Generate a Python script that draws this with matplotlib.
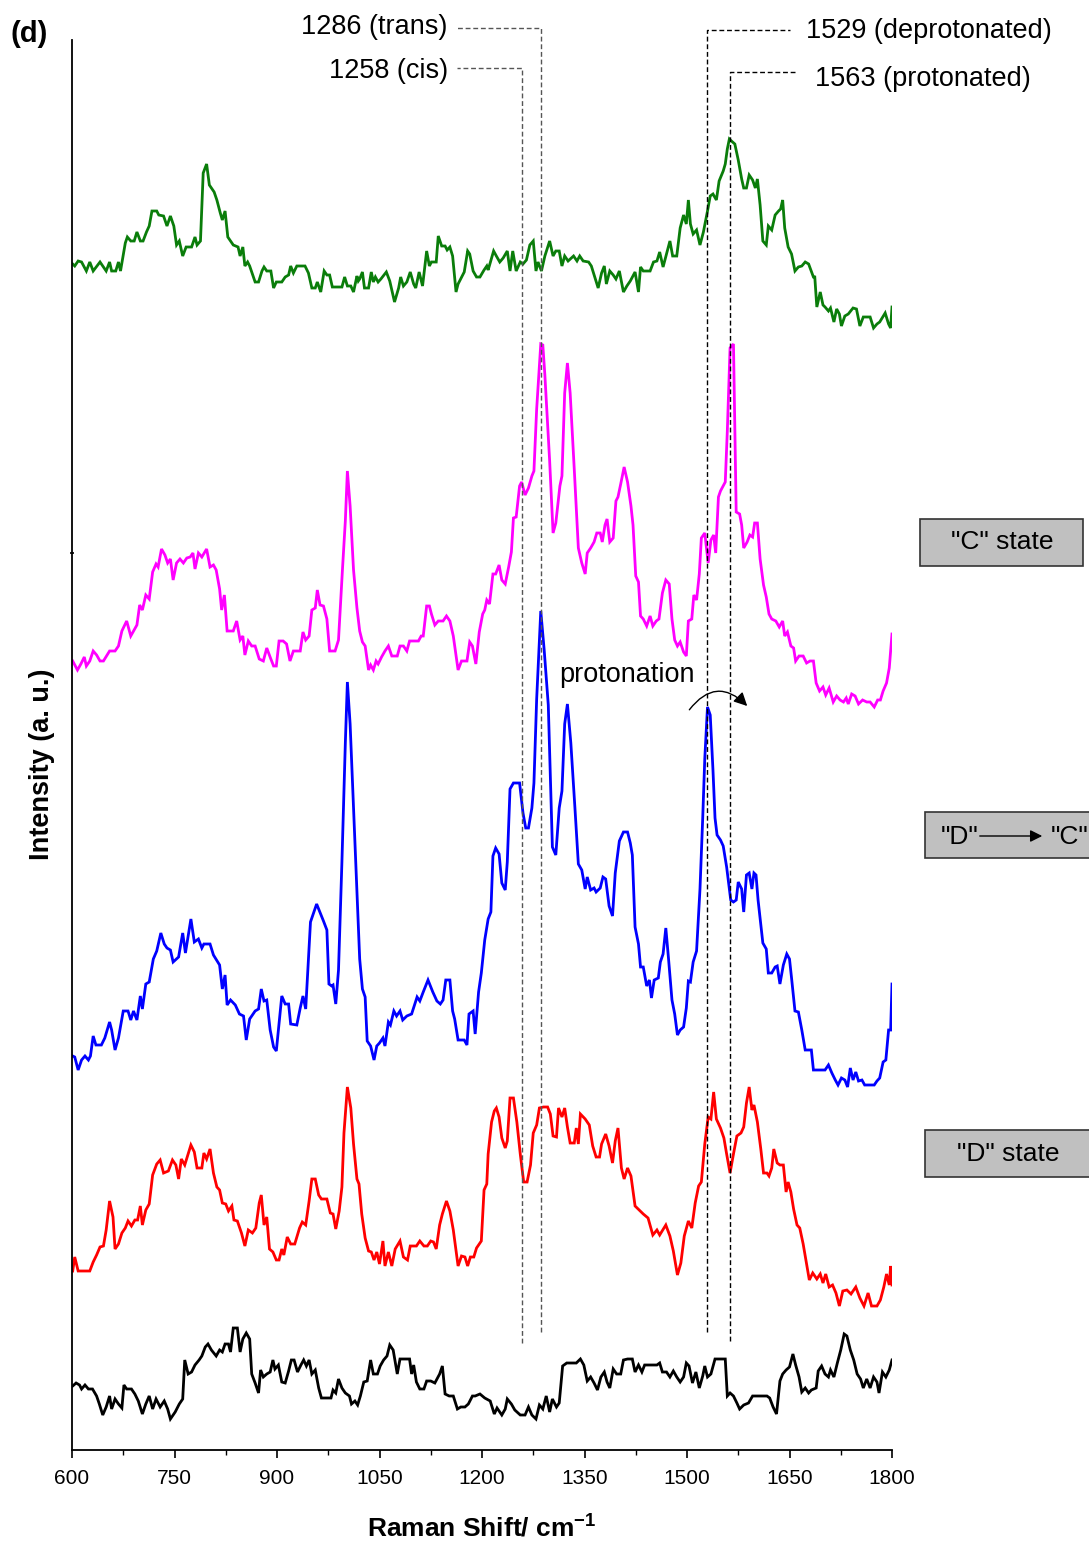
import matplotlib
matplotlib.use('Agg')
import matplotlib.pyplot as plt
from matplotlib.patches import Rectangle, FancyArrowPatch
from matplotlib.ticker import MultipleLocator

plt.rcParams['font.family'] = ['Liberation Sans', 'DejaVu Sans']
plt.rcParams['mathtext.fontset'] = 'custom'
plt.rcParams['mathtext.rm'] = 'Liberation Sans'
plt.rcParams['mathtext.bf'] = 'Liberation Sans:bold'

# Stacked Raman spectra (offset intensities, a.u.)
# "C" state (top trace)
green_cm = [601, 604, 609, 614, 621, 626, 631, 641, 650, 655, 658, 664, 668, 671, 678, 681, 686, 691, 695, 700,
            704, 709, 713, 717, 724, 727, 734, 739, 744, 749, 753, 757, 762, 767, 775, 780, 783, 788, 792, 797,
            801, 808, 812, 817, 820, 824, 828, 836, 843, 846, 850, 853, 857, 860, 868, 873, 878, 881, 885, 891,
            895, 899, 907, 912, 917, 920, 924, 929, 941, 946, 951, 956, 959, 964, 969, 973, 977, 981, 995, 999,
            1003, 1008, 1012, 1017, 1019, 1021, 1025, 1028, 1034, 1038, 1041, 1044, 1048, 1052, 1060, 1065, 1072,
            1078, 1081, 1085, 1090, 1095, 1100, 1103, 1108, 1113, 1119, 1123, 1126, 1133, 1136, 1141, 1146, 1149,
            1153, 1157, 1162, 1165, 1174, 1179, 1182, 1187, 1192, 1197, 1203, 1207, 1209, 1217, 1221, 1226, 1231,
            1237, 1241, 1245, 1250, 1256, 1260, 1265, 1270, 1275, 1279, 1282, 1287, 1292, 1299, 1304, 1308, 1313,
            1317, 1321, 1326, 1334, 1339, 1343, 1348, 1356, 1360, 1365, 1370, 1375, 1379, 1382, 1387, 1392, 1396,
            1401, 1407, 1412, 1417, 1424, 1429, 1432, 1436, 1446, 1451, 1456, 1460, 1465, 1470, 1475, 1479, 1485,
            1490, 1495, 1499, 1502, 1505, 1509, 1514, 1519, 1524, 1530, 1534, 1538, 1543, 1547, 1553, 1556, 1559,
            1562, 1565, 1570, 1575, 1580, 1583, 1587, 1591, 1596, 1600, 1603, 1607, 1611, 1616, 1619, 1624, 1629,
            1634, 1637, 1640, 1643, 1648, 1653, 1658, 1663, 1668, 1673, 1678, 1685, 1687, 1690, 1695, 1699, 1702,
            1707, 1710, 1715, 1719, 1723, 1726, 1731, 1736, 1743, 1748, 1753, 1758, 1768, 1773, 1778, 1782, 1790,
            1795, 1798, 1800]
green_int = [1186, 1184, 1189, 1188, 1179, 1188, 1179, 1188, 1179, 1188, 1179, 1179, 1188, 1179, 1207, 1213, 1209,
             1209, 1218, 1209, 1209, 1218, 1224, 1239, 1239, 1235, 1234, 1224, 1234, 1224, 1205, 1209, 1194, 1203,
             1203, 1213, 1205, 1209, 1277, 1286, 1265, 1258, 1250, 1237, 1230, 1239, 1213, 1205, 1203, 1194, 1203,
             1184, 1188, 1184, 1168, 1168, 1179, 1183, 1179, 1179, 1162, 1168, 1168, 1173, 1175, 1184, 1177, 1184,
             1184, 1177, 1162, 1162, 1168, 1158, 1179, 1175, 1175, 1163, 1163, 1173, 1164, 1164, 1158, 1174, 1169,
             1171, 1178, 1162, 1162, 1178, 1168, 1173, 1168, 1171, 1178, 1169, 1148, 1162, 1173, 1164, 1168, 1178,
             1166, 1162, 1178, 1164, 1199, 1184, 1188, 1188, 1214, 1204, 1204, 1200, 1203, 1194, 1158, 1166, 1178,
             1199, 1196, 1179, 1173, 1173, 1180, 1184, 1180, 1199, 1194, 1188, 1192, 1199, 1179, 1199, 1179, 1188,
             1186, 1190, 1205, 1209, 1179, 1188, 1179, 1194, 1209, 1194, 1199, 1199, 1184, 1194, 1189, 1194, 1189,
             1194, 1189, 1188, 1184, 1173, 1162, 1177, 1184, 1166, 1179, 1175, 1171, 1179, 1158, 1164, 1169, 1178,
             1158, 1183, 1179, 1179, 1188, 1189, 1198, 1183, 1196, 1209, 1194, 1194, 1222, 1235, 1226, 1250, 1226,
             1216, 1220, 1205, 1218, 1239, 1254, 1256, 1250, 1269, 1279, 1286, 1301, 1311, 1309, 1306, 1290, 1271,
             1262, 1262, 1275, 1270, 1262, 1271, 1245, 1209, 1205, 1224, 1220, 1235, 1239, 1241, 1250, 1222, 1203,
             1196, 1179, 1183, 1184, 1188, 1186, 1173, 1173, 1143, 1158, 1145, 1143, 1139, 1142, 1128, 1141, 1136,
             1124, 1134, 1136, 1142, 1141, 1124, 1133, 1133, 1122, 1126, 1128, 1137, 1126, 1122, 1143]

# "C" state after irradiation (magenta trace)
magenta_cm = [601, 608, 613, 618, 621, 626, 631, 636, 641, 646, 655, 663, 668, 673, 680, 686, 695, 699, 703, 708,
              713, 718, 723, 726, 731, 736, 740, 744, 748, 753, 758, 763, 768, 773, 777, 780, 785, 790, 797, 802,
              807, 811, 816, 819, 823, 827, 836, 841, 846, 850, 853, 858, 863, 868, 874, 880, 885, 891, 895, 899,
              903, 909, 914, 919, 924, 934, 938, 942, 947, 951, 956, 959, 963, 968, 973, 977, 985, 990, 996, 1000,
              1003, 1007, 1012, 1017, 1021, 1025, 1029, 1034, 1037, 1041, 1045, 1048, 1053, 1058, 1063, 1068, 1076,
              1080, 1085, 1090, 1094, 1107, 1111, 1114, 1119, 1123, 1126, 1131, 1136, 1143, 1148, 1153, 1158, 1165,
              1170, 1178, 1182, 1186, 1191, 1196, 1201, 1204, 1207, 1211, 1216, 1220, 1225, 1229, 1234, 1239, 1243,
              1246, 1250, 1255, 1258, 1263, 1268, 1273, 1276, 1280, 1286, 1289, 1292, 1299, 1304, 1308, 1314, 1317,
              1321, 1325, 1329, 1335, 1341, 1346, 1351, 1354, 1359, 1364, 1368, 1373, 1376, 1380, 1383, 1387, 1392,
              1396, 1399, 1403, 1408, 1413, 1418, 1421, 1425, 1429, 1432, 1436, 1441, 1446, 1450, 1455, 1459, 1464,
              1469, 1474, 1478, 1482, 1486, 1490, 1495, 1499, 1502, 1507, 1510, 1514, 1518, 1521, 1526, 1531, 1535,
              1539, 1542, 1546, 1549, 1556, 1559, 1563, 1568, 1572, 1577, 1580, 1583, 1588, 1592, 1596, 1599, 1603,
              1607, 1612, 1616, 1620, 1624, 1630, 1635, 1640, 1643, 1647, 1652, 1656, 1659, 1664, 1670, 1675, 1680,
              1685, 1689, 1694, 1699, 1703, 1708, 1714, 1719, 1724, 1729, 1733, 1736, 1741, 1746, 1751, 1757, 1763,
              1768, 1774, 1779, 1783, 1787, 1792, 1796, 1800]
magenta_int = [789, 780, 786, 793, 784, 789, 799, 795, 789, 789, 799, 799, 804, 819, 829, 814, 825, 845, 840, 855,
               851, 878, 886, 883, 901, 895, 887, 891, 870, 887, 891, 887, 892, 893, 897, 881, 897, 893, 901, 883,
               885, 880, 861, 840, 855, 819, 819, 829, 810, 814, 795, 809, 804, 804, 791, 789, 802, 791, 784, 784,
               809, 809, 806, 789, 799, 799, 818, 810, 814, 840, 842, 860, 845, 844, 831, 799, 799, 810, 883, 929,
               979, 944, 880, 842, 819, 808, 804, 780, 785, 780, 789, 786, 793, 799, 804, 794, 794, 804, 804, 799,
               809, 809, 814, 814, 844, 844, 836, 825, 829, 829, 834, 829, 814, 780, 789, 789, 808, 804, 786, 818,
               836, 840, 850, 846, 876, 876, 885, 870, 866, 883, 898, 932, 933, 964, 968, 955, 962, 974, 979, 1041,
               1106, 1105, 1075, 989, 917, 927, 964, 974, 1057, 1087, 1057, 981, 902, 887, 876, 897, 902, 908, 917,
               917, 908, 925, 931, 908, 912, 949, 953, 966, 983, 968, 944, 925, 874, 868, 834, 831, 824, 834, 824,
               829, 831, 857, 870, 866, 831, 810, 804, 808, 798, 794, 829, 831, 855, 850, 876, 912, 917, 887, 910,
               915, 897, 953, 959, 968, 1019, 1102, 1106, 938, 936, 925, 902, 908, 915, 913, 927, 927, 891, 865, 853,
               836, 831, 829, 823, 829, 814, 818, 804, 802, 789, 794, 794, 787, 789, 789, 767, 759, 763, 755, 762,
               748, 754, 750, 748, 752, 746, 756, 754, 746, 750, 748, 748, 743, 750, 750, 759, 767, 782, 816]

# "D" -> "C" transition (blue trace)
blue_cm = [601, 604, 609, 614, 619, 624, 627, 631, 635, 643, 648, 655, 658, 663, 668, 675, 682, 686, 690, 695,
           700, 703, 708, 713, 719, 724, 730, 735, 739, 744, 748, 756, 762, 766, 774, 779, 785, 790, 793, 802,
           807, 816, 820, 824, 827, 832, 839, 845, 851, 855, 860, 868, 873, 877, 881, 885, 890, 895, 899, 907,
           912, 917, 920, 929, 934, 938, 942, 949, 958, 968, 973, 976, 980, 982, 986, 990, 995, 1000, 1003, 1007,
           1012, 1017, 1021, 1025, 1029, 1032, 1037, 1042, 1046, 1050, 1055, 1058, 1063, 1066, 1071, 1075, 1080,
           1084, 1090, 1097, 1105, 1109, 1114, 1121, 1128, 1134, 1139, 1143, 1147, 1153, 1157, 1160, 1165, 1174,
           1178, 1181, 1187, 1190, 1195, 1199, 1204, 1209, 1213, 1216, 1220, 1225, 1229, 1234, 1237, 1241, 1246,
           1255, 1260, 1264, 1268, 1273, 1276, 1280, 1286, 1291, 1297, 1303, 1308, 1313, 1317, 1321, 1325, 1330,
           1336, 1341, 1346, 1351, 1354, 1359, 1364, 1367, 1373, 1377, 1381, 1386, 1391, 1395, 1401, 1407, 1413,
           1417, 1420, 1424, 1429, 1432, 1436, 1441, 1445, 1448, 1452, 1458, 1461, 1465, 1469, 1473, 1478, 1482,
           1486, 1490, 1495, 1499, 1502, 1505, 1509, 1514, 1519, 1523, 1526, 1530, 1534, 1538, 1541, 1544, 1549,
           1553, 1558, 1564, 1568, 1572, 1575, 1580, 1583, 1587, 1591, 1595, 1598, 1601, 1604, 1611, 1616, 1619,
           1624, 1629, 1632, 1636, 1641, 1646, 1650, 1653, 1658, 1663, 1668, 1673, 1678, 1682, 1685, 1692, 1702,
           1707, 1712, 1717, 1721, 1726, 1731, 1735, 1739, 1743, 1747, 1751, 1756, 1760, 1768, 1774, 1778, 1782,
           1787, 1791, 1795, 1798, 1800]
blue_int = [394, 393, 380, 390, 394, 390, 394, 414, 405, 405, 412, 428, 420, 400, 412, 439, 439, 430, 439, 430,
            454, 441, 466, 468, 491, 499, 517, 506, 502, 500, 488, 493, 517, 497, 531, 508, 511, 502, 506, 506,
            495, 485, 461, 475, 445, 450, 445, 436, 434, 410, 431, 439, 441, 461, 449, 450, 420, 403, 399, 454,
            446, 446, 426, 425, 442, 454, 441, 528, 546, 529, 520, 466, 464, 465, 446, 480, 588, 707, 768, 726,
            642, 556, 491, 461, 453, 409, 404, 390, 404, 407, 412, 404, 428, 425, 439, 434, 439, 430, 434, 436,
            453, 449, 458, 470, 458, 449, 446, 450, 470, 470, 439, 431, 410, 410, 405, 436, 439, 416, 458, 477,
            510, 531, 538, 594, 602, 596, 567, 560, 588, 661, 667, 667, 637, 622, 622, 642, 667, 751, 839, 800,
            745, 603, 595, 642, 659, 726, 746, 707, 642, 586, 580, 561, 573, 560, 562, 558, 562, 573, 571, 544,
            534, 577, 609, 618, 618, 607, 595, 523, 506, 483, 483, 464, 470, 452, 470, 472, 488, 496, 522, 491,
            450, 436, 415, 420, 423, 442, 469, 468, 488, 499, 561, 632, 691, 743, 735, 680, 632, 615, 610, 604,
            583, 550, 548, 550, 568, 561, 538, 575, 577, 561, 577, 575, 550, 507, 501, 477, 477, 483, 484, 466,
            485, 496, 491, 472, 439, 438, 420, 400, 400, 400, 380, 380, 380, 385, 377, 370, 365, 372, 370, 363,
            382, 370, 378, 369, 370, 365, 365, 365, 369, 372, 388, 390, 420, 420, 466]

# "D" state (red trace)
red_cm = [601, 604, 609, 626, 631, 636, 641, 646, 650, 655, 660, 663, 668, 673, 678, 682, 687, 692, 696, 700,
          703, 708, 713, 718, 724, 729, 734, 741, 747, 752, 756, 760, 765, 774, 779, 783, 790, 793, 797, 802,
          807, 812, 816, 820, 825, 829, 834, 837, 842, 848, 853, 858, 864, 869, 874, 877, 881, 885, 889, 894,
          899, 903, 907, 910, 915, 920, 926, 933, 937, 942, 947, 951, 956, 961, 965, 973, 978, 982, 986, 991,
          995, 998, 1003, 1008, 1012, 1017, 1020, 1024, 1029, 1034, 1038, 1042, 1046, 1050, 1055, 1058, 1063,
          1068, 1073, 1080, 1085, 1091, 1095, 1104, 1109, 1115, 1120, 1125, 1129, 1133, 1138, 1142, 1148, 1153,
          1158, 1165, 1170, 1175, 1179, 1183, 1188, 1192, 1199, 1203, 1207, 1209, 1214, 1218, 1221, 1225, 1229,
          1234, 1237, 1241, 1246, 1251, 1256, 1261, 1266, 1271, 1275, 1280, 1284, 1290, 1296, 1300, 1304, 1309,
          1312, 1317, 1321, 1325, 1329, 1335, 1338, 1341, 1344, 1351, 1357, 1362, 1367, 1372, 1375, 1381, 1386,
          1391, 1395, 1399, 1404, 1408, 1413, 1418, 1424, 1430, 1436, 1443, 1450, 1456, 1460, 1469, 1475, 1480,
          1486, 1491, 1496, 1502, 1507, 1512, 1517, 1521, 1526, 1531, 1535, 1539, 1543, 1549, 1554, 1558, 1563,
          1568, 1573, 1579, 1583, 1587, 1591, 1595, 1598, 1603, 1608, 1612, 1617, 1620, 1624, 1627, 1632, 1636,
          1641, 1645, 1648, 1652, 1656, 1661, 1665, 1670, 1675, 1679, 1684, 1690, 1695, 1699, 1703, 1708, 1713,
          1718, 1723, 1728, 1734, 1740, 1747, 1753, 1759, 1765, 1770, 1778, 1783, 1788, 1792, 1796, 1798, 1800]
red_int = [179, 193, 179, 179, 188, 195, 203, 204, 220, 249, 233, 201, 206, 217, 222, 229, 224, 230, 230, 244,
           225, 240, 246, 275, 286, 290, 277, 279, 290, 285, 271, 291, 285, 305, 298, 282, 282, 297, 291, 301,
           277, 263, 260, 247, 246, 239, 244, 230, 229, 217, 204, 220, 217, 222, 247, 255, 225, 233, 201, 198,
           190, 190, 201, 195, 213, 206, 206, 222, 228, 225, 249, 271, 271, 255, 251, 251, 237, 236, 221, 239,
           263, 317, 363, 342, 306, 271, 266, 236, 212, 199, 198, 190, 198, 186, 209, 184, 198, 184, 201, 209,
           193, 190, 204, 204, 209, 204, 204, 209, 208, 201, 225, 236, 249, 239, 220, 184, 194, 193, 184, 193,
           193, 202, 209, 260, 266, 296, 328, 339, 342, 333, 312, 302, 309, 352, 352, 328, 296, 268, 268, 285,
           317, 325, 342, 343, 343, 336, 314, 313, 342, 333, 342, 323, 307, 307, 322, 306, 336, 331, 325, 304,
           293, 293, 306, 316, 304, 287, 309, 322, 282, 271, 282, 274, 244, 240, 236, 232, 215, 220, 215, 225,
           214, 199, 175, 187, 214, 229, 222, 247, 264, 268, 306, 333, 331, 358, 331, 322, 312, 296, 277, 296,
           314, 317, 323, 347, 363, 340, 345, 328, 301, 277, 277, 274, 282, 301, 287, 285, 285, 258, 268, 258,
           241, 225, 222, 206, 186, 170, 177, 171, 176, 167, 176, 163, 165, 157, 144, 159, 160, 156, 163, 152,
           144, 157, 144, 144, 150, 163, 176, 165, 184, 165]

# reference (black trace)
black_cm = [601, 606, 611, 614, 619, 624, 630, 636, 640, 645, 650, 655, 658, 663, 668, 673, 676, 680, 687, 692,
            697, 703, 708, 713, 718, 723, 729, 735, 740, 744, 751, 757, 762, 765, 770, 775, 780, 786, 790, 795,
            799, 804, 811, 816, 820, 824, 829, 832, 836, 842, 846, 850, 855, 860, 863, 868, 873, 876, 880, 885,
            890, 894, 897, 902, 907, 912, 917, 921, 925, 930, 935, 939, 943, 947, 951, 956, 961, 965, 973, 979,
            982, 986, 990, 995, 1000, 1006, 1009, 1014, 1018, 1022, 1027, 1032, 1037, 1041, 1047, 1051, 1056,
            1061, 1065, 1070, 1076, 1080, 1085, 1094, 1097, 1100, 1104, 1109, 1115, 1119, 1125, 1131, 1138, 1142,
            1146, 1152, 1158, 1164, 1169, 1175, 1180, 1186, 1190, 1197, 1204, 1212, 1218, 1222, 1229, 1234, 1237,
            1243, 1248, 1256, 1263, 1268, 1273, 1279, 1284, 1289, 1294, 1299, 1303, 1309, 1313, 1318, 1324, 1331,
            1338, 1344, 1349, 1354, 1359, 1364, 1369, 1374, 1379, 1383, 1387, 1392, 1397, 1403, 1407, 1413, 1420,
            1424, 1429, 1434, 1438, 1443, 1450, 1456, 1460, 1464, 1470, 1475, 1480, 1485, 1490, 1495, 1499, 1503,
            1508, 1513, 1518, 1523, 1526, 1530, 1535, 1541, 1547, 1556, 1559, 1563, 1568, 1573, 1577, 1583, 1590,
            1596, 1601, 1607, 1612, 1617, 1621, 1626, 1631, 1636, 1640, 1645, 1650, 1655, 1659, 1664, 1668, 1673,
            1678, 1682, 1689, 1692, 1697, 1702, 1707, 1710, 1715, 1720, 1725, 1730, 1734, 1739, 1744, 1749, 1754,
            1758, 1763, 1768, 1773, 1778, 1781, 1786, 1791, 1796, 1800]
black_int = [64, 67, 65, 61, 65, 61, 61, 54, 46, 35, 43, 54, 41, 51, 46, 42, 65, 61, 61, 56,
             49, 36, 46, 54, 41, 51, 43, 49, 41, 31, 38, 46, 51, 90, 76, 78, 85, 90, 94, 103,
             106, 100, 94, 100, 98, 106, 106, 98, 122, 122, 98, 111, 117, 111, 76, 67, 57, 80, 73, 76,
             78, 90, 81, 85, 68, 67, 79, 90, 90, 78, 85, 90, 84, 90, 76, 80, 62, 52, 52, 52,
             60, 57, 71, 62, 57, 54, 46, 49, 45, 54, 68, 69, 90, 76, 76, 84, 90, 94, 105, 100,
             76, 91, 91, 91, 76, 85, 68, 61, 61, 69, 69, 67, 76, 84, 56, 54, 54, 41, 43, 43,
             46, 54, 54, 56, 52, 49, 36, 42, 35, 41, 51, 46, 40, 35, 35, 43, 35, 31, 45, 41,
             54, 38, 51, 43, 47, 84, 87, 87, 87, 91, 85, 69, 73, 67, 60, 73, 78, 68, 62, 81,
             76, 76, 90, 91, 91, 78, 85, 78, 85, 85, 85, 85, 87, 78, 78, 73, 79, 73, 68, 73,
             87, 84, 67, 78, 62, 74, 84, 73, 76, 91, 91, 91, 54, 57, 54, 47, 41, 45, 47, 54,
             54, 54, 54, 54, 52, 43, 36, 69, 76, 80, 83, 96, 85, 73, 58, 62, 57, 60, 62, 79,
             84, 76, 73, 80, 73, 87, 100, 116, 114, 100, 90, 76, 71, 62, 71, 62, 73, 68, 57, 78,
             73, 80, 90]

spectra = [
    (green_cm, green_int, '#0a7d0a'),
    (magenta_cm, magenta_int, '#ff00ff'),
    (blue_cm, blue_int, '#0000ff'),
    (red_cm, red_int, '#ff0000'),
    (black_cm, black_int, '#000000'),
]

# marker bands: wavenumber, label
bands = [(1258, '1258 (cis)'), (1286, '1286 (trans)'), (1529, '1529 (deprotonated)'), (1563, '1563 (protonated)')]

W, H = 1089, 1541
fig = plt.figure(figsize=(W / 100, H / 100), dpi=100)
ax = fig.add_axes([72 / W, 1 - 1450 / H, 820 / W, 1410 / H])

for x, y, c in spectra:
    ax.plot(x, y, color=c, lw=2.0, solid_joinstyle='miter')

ax.set_xlim(600, 1800)
ax.set_ylim(0, 1410)

# dashed guide lines for the assigned bands
ax.plot([1258, 1258, 1163], [107, 1382, 1382], ls=(0, (3.5, 2)), lw=1, color='#555555', clip_on=False)
ax.plot([1286, 1286, 1163], [118, 1422, 1422], ls=(0, (3.5, 2)), lw=1, color='#555555', clip_on=False)
ax.plot([1529, 1529, 1651], [118, 1420, 1420], ls=(0, (3.5, 2)), lw=1, color='black', clip_on=False)
ax.plot([1563, 1563, 1658], [109, 1378, 1378], ls=(0, (3.5, 2)), lw=1, color='black', clip_on=False)

fs = 19.5
ax.text(1150, 1423, bands[1][1], ha='right', va='center', fontsize=fs)
ax.text(1150, 1379, bands[0][1], ha='right', va='center', fontsize=fs)
ax.text(1674, 1419, bands[2][1], ha='left', va='center', fontsize=fs)
ax.text(1687, 1371, bands[3][1], ha='left', va='center', fontsize=fs)

ax.text(1313, 775, 'protonation', ha='left', va='center', fontsize=fs)
ax.add_patch(FancyArrowPatch((1501, 738), (1591, 742), connectionstyle='arc3,rad=-0.6',
                             arrowstyle='-|>', mutation_scale=20, lw=1, color='black'))

# axes styling
for s in ['top', 'right']:
    ax.spines[s].set_visible(False)
for s in ['left', 'bottom']:
    ax.spines[s].set_linewidth(1.3)
ax.set_xticks(range(600, 1801, 150))
ax.xaxis.set_minor_locator(MultipleLocator(75))
ax.tick_params(axis='x', which='major', direction='out', length=6, width=1.2, labelsize=15, pad=8)
ax.tick_params(axis='x', which='minor', direction='out', length=3.5, width=1.0)
ax.set_yticks([897])
ax.set_yticklabels([])
ax.tick_params(axis='y', which='major', direction='inout', length=3, width=1.2)

ax.set_xlabel(r'Raman Shift/ cm$^{\mathregular{-1}}$', fontsize=19, fontweight='bold', va='center')
ax.xaxis.set_label_coords(0.5, -(1527 - 1450) / 1410)
ax.set_ylabel('Intensity (a. u.)', fontsize=19.5, fontweight='bold', va='center', ha='center')
ax.yaxis.set_label_coords(-(72 - 42) / 820, (1450 - 764) / 1410)

fig.text(10 / W, 1 - 34 / H, '(d)', fontsize=21, fontweight='bold', ha='left', va='center')

# state boxes on the right
def state_box(x0, y0, x1, y1):
    fig.add_artist(Rectangle((x0 / W, 1 - y1 / H), (x1 - x0) / W, (y1 - y0) / H,
                             transform=fig.transFigure, facecolor='#c0c0c0',
                             edgecolor='#333333', lw=1.2))

state_box(920, 519, 1083, 566)
fig.text(1002 / W, 1 - 542 / H, '"C" state', fontsize=19, ha='center', va='center')

state_box(925, 812, 1095, 858)
fig.text(941 / W, 1 - 837 / H, '"D"', fontsize=19, ha='left', va='center')
fig.text(1088 / W, 1 - 837 / H, '"C"', fontsize=19, ha='right', va='center')
fig.add_artist(FancyArrowPatch((977 / W, 1 - 836 / H), (1045 / W, 1 - 836 / H), transform=fig.transFigure,
                               arrowstyle='-|>', mutation_scale=18, lw=1, color='black'))

state_box(925, 1130, 1095, 1177)
fig.text(1008 / W, 1 - 1154 / H, '"D" state', fontsize=19, ha='center', va='center')

fig.savefig('out.png', dpi=100)
